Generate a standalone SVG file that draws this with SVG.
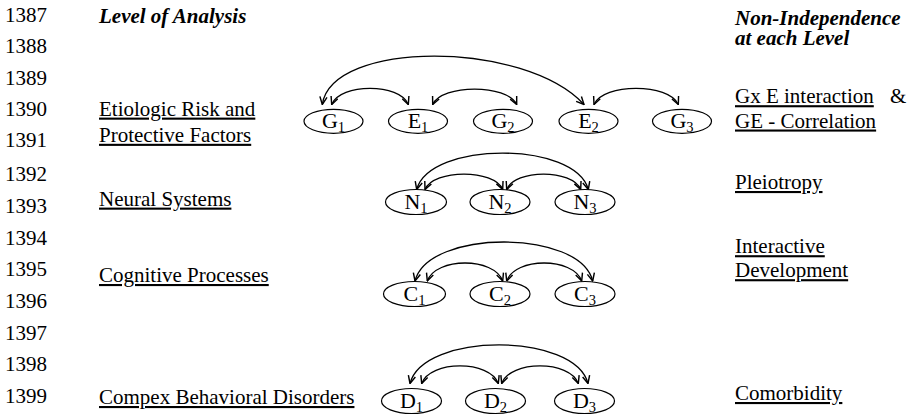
<svg xmlns="http://www.w3.org/2000/svg" width="913" height="415" viewBox="0 0 913 415">
<style>
text{font-family:"Liberation Serif","Times New Roman",serif;fill:#000}
.ln{font-size:21px}
.hdr{font-size:21px;font-weight:bold;font-style:italic}
.lbl{font-size:21px;text-decoration:underline}
.plain{font-size:21px}
.node ellipse{fill:#fff;stroke:#000;stroke-width:1.2}
.nt{font-size:22px;text-anchor:middle}
.sub{font-size:14.5px}
.arc{fill:none;stroke:#000;stroke-width:1.3;marker-start:url(#ah);marker-end:url(#ah)}
</style>
<defs>
<marker id="ah" viewBox="0 0 10 10" refX="9.5" refY="5" markerWidth="9" markerHeight="9" markerUnits="userSpaceOnUse" orient="auto-start-reverse">
<path d="M1,1 L9.5,5 L1,9" fill="none" stroke="#000" stroke-width="1.6"/>
</marker>
</defs>
<rect width="913" height="415" fill="#fff"/>
<g id="line-numbers" class="ln">
<text x="5" y="21.5">1387</text>
<text x="5" y="53">1388</text>
<text x="5" y="84.5">1389</text>
<text x="5" y="116">1390</text>
<text x="5" y="147">1391</text>
<text x="5" y="181">1392</text>
<text x="5" y="213">1393</text>
<text x="5" y="245">1394</text>
<text x="5" y="276">1395</text>
<text x="5" y="307.5">1396</text>
<text x="5" y="340">1397</text>
<text x="5" y="371">1398</text>
<text x="5" y="402.5">1399</text>
</g>
<g id="headers">
<text class="hdr" x="99" y="22.5">Level of Analysis</text>
<text class="hdr" x="735" y="24.5">Non-Independence</text>
<text class="hdr" x="735" y="44.5">at each Level</text>
</g>
<g id="level-labels">
<text class="lbl" x="99" y="115.6">Etiologic Risk and</text>
<text class="lbl" x="99" y="141.8">Protective Factors</text>
<text class="lbl" x="99" y="205.6">Neural Systems</text>
<text class="lbl" x="99" y="282">Cognitive Processes</text>
<text class="lbl" x="99" y="404">Compex Behavioral Disorders</text>
</g>
<g id="non-independence-labels">
<text class="lbl" x="735" y="103.2">Gx E interaction</text>
<text class="plain" x="890" y="103.2">&amp;</text>
<text class="lbl" x="735" y="127.5">GE - Correlation</text>
<text class="lbl" x="735" y="189">Pleiotropy</text>
<text class="lbl" x="735" y="253.2">Interactive</text>
<text class="lbl" x="735" y="277.2">Development</text>
<text class="lbl" x="735" y="400">Comorbidity</text>
</g>
<g id="connectors">
<path class="arc" d="M322.3,104.5 C332,40 524,40 584,104.5"/>
<path class="arc" d="M331.7,104.5 C340,83 400,83 408.3,104.5"/>
<path class="arc" d="M432.7,104.5 C442,84 507,84 516.7,104.5"/>
<path class="arc" d="M594,104.5 C603,83 669,83 678.3,104.5"/>
<path class="arc" d="M416.7,189.5 C430,141 575,141 588.3,189.5"/>
<path class="arc" d="M425,189.5 C434,169 494,169 502.7,189.5"/>
<path class="arc" d="M506.7,189.5 C515,169 572,169 580.7,189.5"/>
<path class="arc" d="M415,281 C428,229 580,229 592.7,281"/>
<path class="arc" d="M427.3,281 C436,257 494,257 502.7,281"/>
<path class="arc" d="M506.7,281 C515,257 573,257 581.7,281"/>
<path class="arc" d="M410,383.5 C423,332 575,332 588,383.5"/>
<path class="arc" d="M421.7,383.5 C430,360 490,360 498.3,383.5"/>
<path class="arc" d="M501.7,383.5 C510,360 570,360 578.3,383.5"/>
</g>
<g id="G1" class="node"><ellipse cx="333.5" cy="121.3" rx="29.5" ry="12"/><text class="nt" x="333.5" y="127.5">G<tspan class="sub" dy="4.5">1</tspan></text></g>
<g id="E1" class="node"><ellipse cx="418" cy="121.3" rx="29.5" ry="12"/><text class="nt" x="418" y="127.5">E<tspan class="sub" dy="4.5">1</tspan></text></g>
<g id="G2" class="node"><ellipse cx="503" cy="121.3" rx="29.5" ry="12"/><text class="nt" x="503" y="127.5">G<tspan class="sub" dy="4.5">2</tspan></text></g>
<g id="E2" class="node"><ellipse cx="588.5" cy="121.3" rx="29.5" ry="12"/><text class="nt" x="588.5" y="127.5">E<tspan class="sub" dy="4.5">2</tspan></text></g>
<g id="G3" class="node"><ellipse cx="682" cy="121.3" rx="29.5" ry="12"/><text class="nt" x="682" y="127.5">G<tspan class="sub" dy="4.5">3</tspan></text></g>
<g id="N1" class="node"><ellipse cx="416" cy="202" rx="30.5" ry="12.5"/><text class="nt" x="416" y="208.5">N<tspan class="sub" dy="4.5">1</tspan></text></g>
<g id="N2" class="node"><ellipse cx="500" cy="202" rx="30" ry="12.5"/><text class="nt" x="500" y="208.5">N<tspan class="sub" dy="4.5">2</tspan></text></g>
<g id="N3" class="node"><ellipse cx="585" cy="202" rx="30" ry="12.5"/><text class="nt" x="585" y="208.5">N<tspan class="sub" dy="4.5">3</tspan></text></g>
<g id="C1" class="node"><ellipse cx="414.5" cy="294" rx="31" ry="12.5"/><text class="nt" x="414.5" y="300.5">C<tspan class="sub" dy="4.5">1</tspan></text></g>
<g id="C2" class="node"><ellipse cx="500" cy="294" rx="30" ry="12.5"/><text class="nt" x="500" y="300.5">C<tspan class="sub" dy="4.5">2</tspan></text></g>
<g id="C3" class="node"><ellipse cx="585" cy="294" rx="30" ry="12.5"/><text class="nt" x="585" y="300.5">C<tspan class="sub" dy="4.5">3</tspan></text></g>
<g id="D1" class="node"><ellipse cx="411.5" cy="401" rx="30" ry="12.5"/><text class="nt" x="411.5" y="407.5">D<tspan class="sub" dy="4.5">1</tspan></text></g>
<g id="D2" class="node"><ellipse cx="495.5" cy="401" rx="30" ry="12.5"/><text class="nt" x="495.5" y="407.5">D<tspan class="sub" dy="4.5">2</tspan></text></g>
<g id="D3" class="node"><ellipse cx="584.5" cy="401" rx="30" ry="12.5"/><text class="nt" x="584.5" y="407.5">D<tspan class="sub" dy="4.5">3</tspan></text></g>
</svg>
